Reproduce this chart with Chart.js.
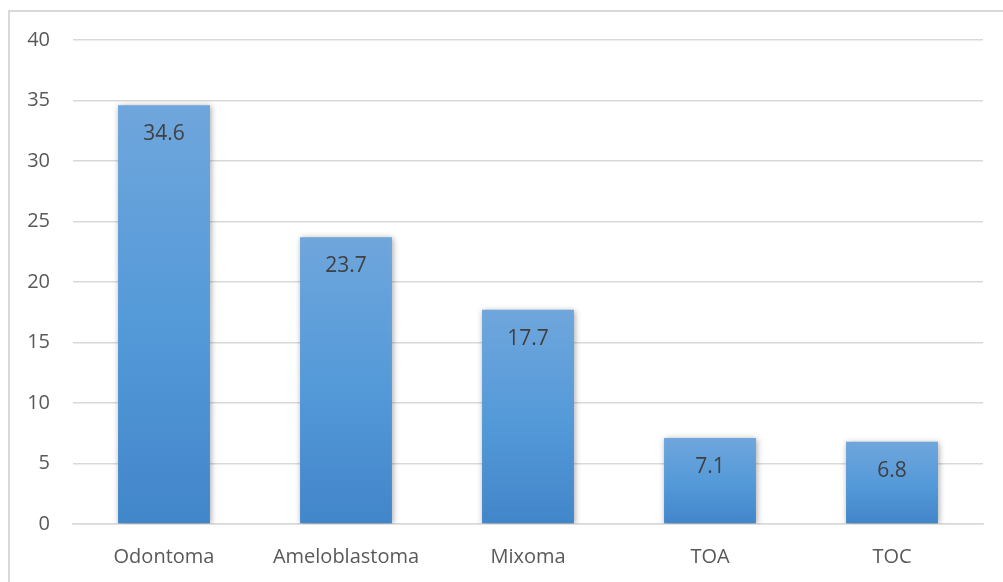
<!DOCTYPE html>
<html>
<head>
<meta charset="utf-8">
<script src="https://cdn.jsdelivr.net/npm/chart.js@4"></script>
<style>
  html, body { margin: 0; padding: 0; background: #fff; }
  #wrap { position: relative; width: 1003px; height: 582px; overflow: hidden; }
  #frame { position: absolute; left: 8px; top: 10px; width: 1010px; height: 600px;
           border: 2px solid #d9d9d9; box-sizing: border-box; pointer-events: none; }
</style>
</head>
<body>
<div id="wrap">
  <canvas id="tumorChart" width="1003" height="582"></canvas>
  <div id="frame"></div>
</div>
<script>
// dane
const categories = ['Odontoma', 'Ameloblastoma', 'Mixoma', 'TOA', 'TOC'];
const percentValues = [34.6, 23.7, 17.7, 7.1, 6.8];
const yTicks = [0, 5, 10, 15, 20, 25, 30, 35, 40];

// gradient dla każdego słupka osobno (jasny u góry, ciemniejszy u dołu)
function barGradient(context) {
    const chart = context.chart;
    if (!chart.chartArea || context.dataIndex === undefined) return '#5b9bd5';
    const y = chart.scales.y;
    const top = y.getPixelForValue(context.raw);
    const bottom = y.getPixelForValue(0);
    const g = chart.ctx.createLinearGradient(0, top, 0, bottom);
    g.addColorStop(0, '#6fa6dc');
    g.addColorStop(0.5, '#559ad9');
    g.addColorStop(1, '#4286ca');
    return g;
}

// cień pod słupkami
const barShadow = {
    id: 'barShadow',
    beforeDatasetsDraw(chart) {
        const ctx = chart.ctx;
        ctx.save();
        ctx.shadowColor = 'rgba(0, 0, 0, 0.35)';
        ctx.shadowBlur = 6;
        ctx.shadowOffsetX = 1;
        ctx.shadowOffsetY = 1;
    },
    afterDatasetsDraw(chart) {
        chart.ctx.restore();
    }
};

// etykiety wartości w środku słupka, przy górze
const valueLabels = {
    id: 'valueLabels',
    afterDatasetsDraw(chart) {
        const ctx = chart.ctx;
        const meta = chart.getDatasetMeta(0);
        ctx.save();
        ctx.font = '21px "Open Sans", sans-serif';
        ctx.fillStyle = '#404040';
        ctx.textAlign = 'center';
        ctx.textBaseline = 'middle';
        meta.data.forEach((bar, i) => {
            ctx.fillText(percentValues[i].toFixed(1), bar.x, bar.y + 29);
        });
        ctx.restore();
    }
};

new Chart(document.getElementById('tumorChart').getContext('2d'), {
    type: 'bar',
    data: {
        labels: categories,
        datasets: [{
            data: percentValues,
            backgroundColor: barGradient,
            borderWidth: 0,
            categoryPercentage: 1,
            barPercentage: 0.505
        }]
    },
    options: {
        responsive: false,
        animation: false,
        devicePixelRatio: 1,
        layout: { padding: { top: 40, right: 20, left: 0, bottom: 0 } },
        plugins: {
            legend: { display: false },
            tooltip: { enabled: false }
        },
        scales: {
            y: {
                min: 0,
                max: 40,
                afterFit(scale) { scale.width = 73; },
                afterBuildTicks(scale) { scale.ticks = yTicks.map(v => ({ value: v })); },
                border: { display: false },
                grid: { color: '#d9d9d9', lineWidth: 1.5, drawTicks: false },
                ticks: {
                    color: '#595959',
                    padding: 23,
                    font: { family: '"Open Sans", sans-serif', size: 20 }
                }
            },
            x: {
                afterFit(scale) { scale.height = 58; },
                border: { display: true, color: '#d9d9d9', width: 1.5 },
                grid: { display: false },
                ticks: {
                    color: '#595959',
                    padding: 13,
                    font: { family: '"Open Sans", sans-serif', size: 20 }
                }
            }
        }
    },
    plugins: [barShadow, valueLabels]
});
</script>
</body>
</html>
